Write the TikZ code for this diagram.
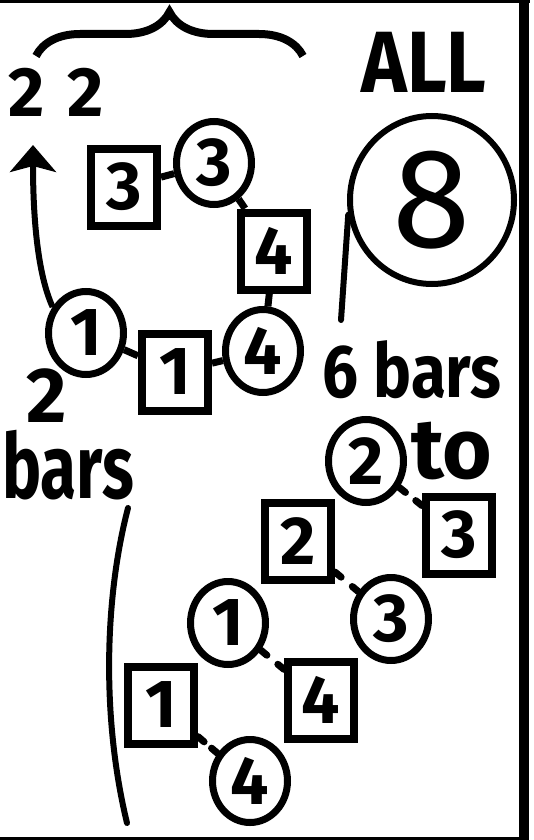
\documentclass[tikz,border=0pt]{standalone}
\usepackage{fontspec}
\setmainfont{Fira Sans}
\usetikzlibrary{arrows.meta, shapes.geometric, decorations.pathreplacing}

\newcommand\numfont{\bfseries\fontsize{68}{68}\selectfont}

\begin{document}
\begin{tikzpicture}[x=1pt, y=-1pt, >={Stealth[width=46pt, length=27pt, inset=6pt]},
  barbox/.style={draw, line width=8pt, minimum width=66pt, minimum height=77pt, inner sep=0pt, font=\numfont},
  beatring/.style={draw, ellipse, line width=7pt, minimum width=75pt, minimum height=83pt, inner sep=0pt, font=\numfont},
  joint/.style={line width=7pt},
  stub/.style={line width=7pt, line cap=round, dash pattern=on 8pt off 2000pt},
  plain/.style={inner sep=0pt, font=\bfseries\fontsize{#1}{#1}\selectfont},
  heading/.style={inner sep=0pt, font=\bfseries\fontsize{#1}{#1}\selectfont}]
\useasboundingbox (0,0) rectangle (534,840);
% frame
\fill (0,0) rectangle (530,3);
\fill (519,0) rectangle (529,838);
\fill (0,837) rectangle (529,840);

% two bars loop
\node[barbox] (b3top) at (124,187) {3};
\node[beatring] (c3top) at (214,163) {3};
\node[barbox] (b4top) at (274,251) {4};
\node[beatring] (c4top) at (263,351) {4};
\node[barbox] (b1top) at (175,372) {1};
\node[beatring] (c1top) at (86,333) {1};
\coordinate (up) at (33,145);
\draw[joint] (b3top) -- (c3top);
\draw[joint] (c3top) -- (b4top);
\draw[joint] (b4top) -- (c4top);
\draw[joint] (c4top) -- (b1top);
\draw[joint] (b1top) -- (c1top);
\draw[->, line width=6pt] (c1top.142) .. controls (38,275) and (33,220) .. (up);

\draw[line width=8pt, decorate, decoration={brace, amplitude=44pt}] (36,56) -- (303,56);
\node[plain=70] (twotwo) at (56,92) {2\,\,2};
\node[plain=78] (two) at (47,396) {2};
\node[heading=90, xscale=0.73] (bars) at (68,465) {bars};

% all eight
\node[heading=87, xscale=0.89] (all) at (424,62) {ALL};
\node[draw, ellipse, line width=6pt, minimum width=164pt, minimum height=168pt, inner sep=0pt,
  font=\fontsize{142}{142}\selectfont] (bigc) at (432,200) {8};
\coordinate (tail) at (341,320);
\draw[line width=6pt, line cap=round] (bigc.190) -- (tail);
\node[heading=75, xscale=0.85] (sixbars) at (412,370) {6 bars};
\node[plain=85] (tolabel) at (452,451) {to};

% six bars
\node[beatring] (c2bot) at (366,461) {2};
\node[barbox] (b3bot) at (459,535) {3};
\node[barbox] (b2bot) at (298,541) {2};
\node[beatring] (c3bot) at (391,619) {3};
\node[beatring] (c1bot) at (228,623) {1};
\node[barbox] (b4bot) at (321,700) {4};
\node[barbox] (b1bot) at (161,705) {1};
\node[beatring] (c4bot) at (250,781) {4};
\draw[stub] (c2bot) -- (b3bot);
\draw[stub] (b3bot) -- (c2bot);
\draw[stub] (b2bot) -- (c3bot);
\draw[stub] (c3bot) -- (b2bot);
\draw[stub] (c1bot) -- (b4bot);
\draw[stub] (b4bot) -- (c1bot);
\draw[stub] (b1bot) -- (c4bot);
\draw[stub] (c4bot) -- (b1bot);
\draw[line width=6pt, line cap=round] (128,508) .. controls (104,600) and (102,720) .. (127,823);
\end{tikzpicture}
\end{document}
